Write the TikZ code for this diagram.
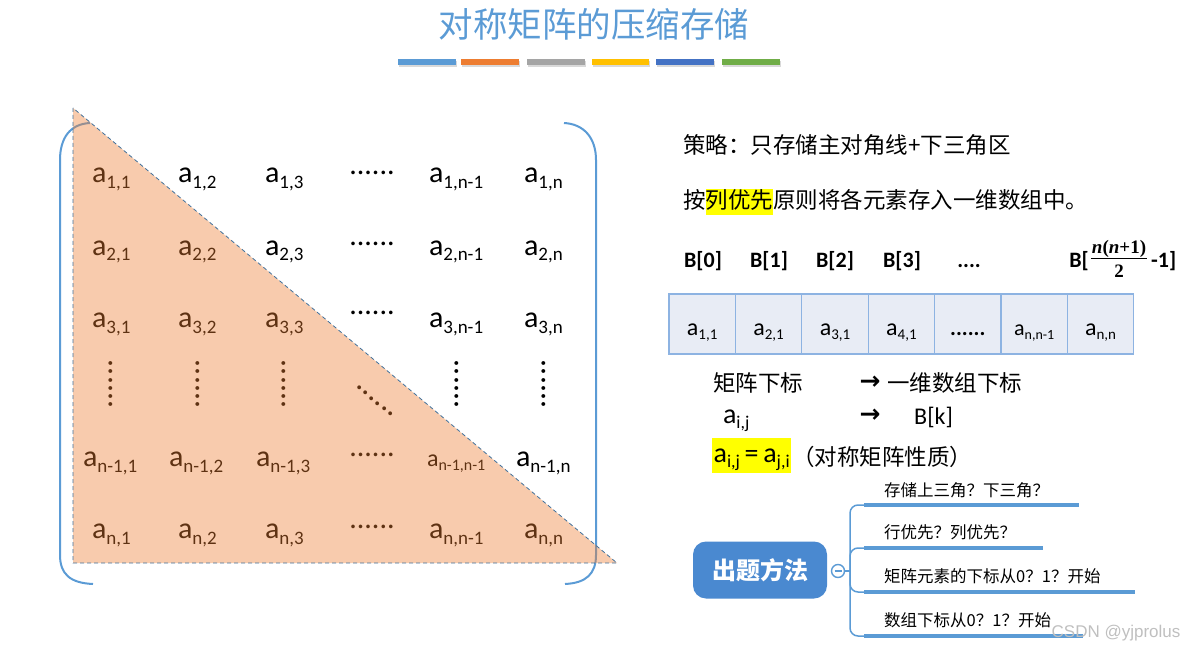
\documentclass[tikz,border=0pt]{standalone}
\usepackage{fontspec}
\setmainfont{Carlito}
\newfontfamily\carl{Carlito}
\newfontfamily\cjk{Noto Sans CJK SC}
\newfontfamily\arial{Liberation Sans}
\newfontfamily\dejavu{DejaVu Sans}
\newfontfamily\lserif{Liberation Serif}
\usetikzlibrary{calc}
\definecolor{bblue}{HTML}{5B9BD5}
\definecolor{cA}{HTML}{5B9BD5}
\definecolor{cB}{HTML}{ED7D31}
\definecolor{cC}{HTML}{A5A5A5}
\definecolor{cD}{HTML}{FFC000}
\definecolor{cE}{HTML}{4472C4}
\definecolor{cF}{HTML}{70AD47}
\definecolor{tridash}{HTML}{41719C}
\definecolor{cellfill}{HTML}{E8ECF5}
\definecolor{cellline}{HTML}{8DB3E2}
\definecolor{rootfill}{HTML}{4A89D0}
\definecolor{hl}{HTML}{FFFF00}
\newcommand\ment[4]{{\fontsize{#1}{#1}\selectfont\carl #3\raisebox{-0.2em}{\fontsize{#2}{#2}\selectfont #4}}}
\newcommand\hdots{{\fontsize{30}{30}\selectfont\carl ......}}
\newcommand\vdotsx{{\fontsize{32}{32}\selectfont\carl ......}}
\newcommand\hlbox[1]{{\setlength\fboxsep{0pt}\colorbox{hl}{#1}}}
\tikzset{
  el/.style={anchor=base west, inner sep=0pt, outer sep=0pt},
  dt/.style={anchor=center, inner sep=0pt, outer sep=0pt},
  rtext/.style={anchor=west, inner sep=0pt, font=\cjk\fontsize{22.5}{22.5}\selectfont},
  blabel/.style={anchor=base, inner sep=0pt, font=\carl\bfseries\fontsize{22}{22}\selectfont},
  fracpart/.style={anchor=base, inner sep=0pt, font=\lserif\bfseries\fontsize{19}{19}\selectfont},
  cell/.style={draw=cellline, fill=cellfill, line width=1.3pt, minimum width=66.4pt, minimum height=60pt, inner sep=0pt},
  celltext/.style={anchor=base, inner sep=0pt},
  brtext/.style={anchor=west, inner sep=0pt, font=\cjk\fontsize{16.5}{16.5}\selectfont},
  branch/.style={bblue, line width=4pt},
  twig/.style={bblue, line width=1.5pt, rounded corners=8pt},
  bracket/.style={bblue, line width=2pt},
  arrowtext/.style={anchor=center, inner sep=0pt, font=\dejavu\bfseries\fontsize{25}{25}\selectfont},
}
\begin{document}
\begin{tikzpicture}[x=1pt,y=-1pt]
\useasboundingbox (0,0) rectangle (1201,652);
% title
\node[inner sep=0pt, text=bblue, font=\cjk\fontsize{34.5}{34.5}\selectfont] (title) at (594,24) {对称矩阵的压缩存储};
% colour bars
\fill[gray!30] (399,61) rectangle (457,67);
\fill[gray!30] (462,61) rectangle (520,67);
\fill[gray!30] (528,61) rectangle (586,67);
\fill[gray!30] (593,61) rectangle (650,67);
\fill[gray!30] (657,61) rectangle (715,67);
\fill[gray!30] (723,61) rectangle (781,67);
\fill[cA] (398,59) rectangle (456,65);
\fill[cB] (461,59) rectangle (519,65);
\fill[cC] (527,59) rectangle (585,65);
\fill[cD] (592,59) rectangle (649,65);
\fill[cE] (656,59) rectangle (714,65);
\fill[cF] (722,59) rectangle (780,65);
% brackets
\draw[bracket] (90,123) .. controls (70,124) and (60,138) .. (60,160) -- (60,555) .. controls (60,574) and (70,583) .. (93,584);
\draw[bracket] (564,123) .. controls (584,124) and (596,138) .. (596,160) -- (596,555) .. controls (596,574) and (586,583) .. (565,584);
% row 1
\node[el] (m11) at (92,183) {\ment{30}{19}{a}{1,1}};
\node[el] (m12) at (178,183) {\ment{30}{19}{a}{1,2}};
\node[el] (m13) at (265,183) {\ment{30}{19}{a}{1,3}};
\node[dt] (m14) at (372,173) {\hdots};
\node[el] (m15) at (429,183) {\ment{30}{19}{a}{1,n-1}};
\node[el] (m16) at (524,183) {\ment{30}{19}{a}{1,n}};
% row 2
\node[el] (m21) at (92,255) {\ment{30}{19}{a}{2,1}};
\node[el] (m22) at (178,255) {\ment{30}{19}{a}{2,2}};
\node[el] (m23) at (265,255) {\ment{30}{19}{a}{2,3}};
\node[dt] (m24) at (372,244) {\hdots};
\node[el] (m25) at (429,255) {\ment{30}{19}{a}{2,n-1}};
\node[el] (m26) at (524,255) {\ment{30}{19}{a}{2,n}};
% row 3
\node[el] (m31) at (92,327) {\ment{30}{19}{a}{3,1}};
\node[el] (m32) at (178,327) {\ment{30}{19}{a}{3,2}};
\node[el] (m33) at (265,327) {\ment{30}{19}{a}{3,3}};
\node[dt] (m34) at (372,313) {\hdots};
\node[el] (m35) at (429,327) {\ment{30}{19}{a}{3,n-1}};
\node[el] (m36) at (524,327) {\ment{30}{19}{a}{3,n}};
% row 4 (dots)
\node[dt, rotate=90] (m41) at (111,384) {\vdotsx};
\node[dt, rotate=90] (m42) at (198,384) {\vdotsx};
\node[dt, rotate=90] (m43) at (284,384) {\vdotsx};
\node[dt, rotate=-40] (m44) at (375,401) {\vdotsx};
\node[dt, rotate=90] (m45) at (457,384) {\vdotsx};
\node[dt, rotate=90] (m46) at (544,384) {\vdotsx};
% row 5
\node[el] (m51) at (83,466) {\ment{30}{19}{a}{n-1,1}};
\node[el] (m52) at (169,466) {\ment{30}{19}{a}{n-1,2}};
\node[el] (m53) at (256,466) {\ment{30}{19}{a}{n-1,3}};
\node[dt] (m54) at (372,455) {\hdots};
\node[el] (m55) at (427,466) {\ment{24}{16}{a}{n-1,n-1}};
\node[el] (m56) at (516,466) {\ment{30}{19}{a}{n-1,n}};
% row 6
\node[el] (m61) at (92,538) {\ment{30}{19}{a}{n,1}};
\node[el] (m62) at (178,538) {\ment{30}{19}{a}{n,2}};
\node[el] (m63) at (265,538) {\ment{30}{19}{a}{n,3}};
\node[dt] (m64) at (372,527) {\hdots};
\node[el] (m65) at (429,538) {\ment{30}{19}{a}{n,n-1}};
\node[el] (m66) at (524,538) {\ment{30}{19}{a}{n,n}};
% triangle overlay
\fill[cB, fill opacity=0.4] (73,108) -- (73,563) -- (617,563) -- cycle;
\draw[tridash, line width=0.8pt, dash pattern=on 4pt off 3pt] (73,108) -- (73,563) -- (617,563) -- cycle;
% right text
\node[rtext] (s1) at (683,145) {策略：只存储主对角线+下三角区};
\node[rtext] (s2) at (683,202) {按\hlbox{\rule[-0.28em]{0pt}{1.1em}列优先}原则将各元素存入一维数组中。};
% B labels
\node[blabel] (b0) at (703,268) {B[0]};
\node[blabel] (b1) at (769,268) {B[1]};
\node[blabel] (b2) at (835,268) {B[2]};
\node[blabel] (b3) at (902,268) {B[3]};
\node[blabel] (b4) at (969,268) {....};
\node[blabel, anchor=base east] (b5a) at (1089,268) {B[};
\node[fracpart] (b5n) at (1119,254) {\textit{n}(\textit{n}+1)};
\node[fracpart] (b5d) at (1119,277) {2};
\draw[line width=1.3pt] ([xshift=-1pt]b5n.south west |- 0,258.5) -- ([xshift=1pt]b5n.south east |- 0,258.5);
\node[blabel, anchor=base west] (b5b) at (1151,268) {-1]};
% array
\node[cell] (c1) at (702.2,324) {};
\node[cell] (c2) at (768.6,324) {};
\node[cell] (c3) at (835.0,324) {};
\node[cell] (c4) at (901.4,324) {};
\node[cell] (c5) at (967.8,324) {};
\node[cell] (c6) at (1034.2,324) {};
\node[cell] (c7) at (1100.6,324) {};
\node[celltext] (t1) at (702.2,335) {\ment{24}{15}{a}{1,1}};
\node[celltext] (t2) at (768.6,335) {\ment{24}{15}{a}{2,1}};
\node[celltext] (t3) at (835.0,335) {\ment{24}{15}{a}{3,1}};
\node[celltext] (t4) at (901.4,335) {\ment{24}{15}{a}{4,1}};
\node[celltext] (t5) at (967.8,335) {{\carl\bfseries\fontsize{22}{22}\selectfont ......}};
\node[celltext] (t6) at (1034.2,335) {\ment{22}{14}{a}{n,n-1}};
\node[celltext] (t7) at (1100.6,335) {\ment{24}{15}{a}{n,n}};
% mapping
\node[rtext] (k1) at (713,383) {矩阵下标};
\node[arrowtext] (ar1) at (870,383) {→};
\node[rtext] (k2) at (887,383) {一维数组下标};
\node[el] (k3) at (723,423) {\ment{28}{18}{a}{i,j}};
\node[arrowtext] (ar2) at (870,416) {→};
\node[anchor=west, inner sep=0pt, font=\carl\fontsize{24}{24}\selectfont] (k4) at (914,417) {B[k]};
\node[anchor=west, inner sep=0pt] (k5) at (712,455.5) {\hlbox{\rule[-11pt]{0pt}{35pt}\hspace{1.5pt}\ment{28}{18}{a}{i,j}{\carl\fontsize{28}{28}\selectfont\,=\,}\ment{28}{18}{a}{j,i}\hspace{1.5pt}}};
\node[rtext] (k6) at (792,457) {（对称矩阵性质）};
% mind map
\node[fill=rootfill, rounded corners=13pt, minimum width=134pt, minimum height=57pt, inner sep=0pt, text=white, font=\cjk\bfseries\fontsize{24}{24}\selectfont] (root) at (760,570) {出题方法};
\node[circle, draw=bblue, fill=white, line width=1.4pt, minimum size=13pt, inner sep=0pt] (col) at (838,571) {};
\draw[bblue, line width=1.6pt] ([xshift=-3.5pt]col.center) -- ([xshift=3.5pt]col.center);
\coordinate (j) at (850,571);
\coordinate (l1s) at (864,505); \coordinate (l1e) at (1079,505);
\coordinate (l2s) at (864,548); \coordinate (l2e) at (1043,548);
\coordinate (l3s) at (864,592); \coordinate (l3e) at (1135,592);
\coordinate (l4s) at (864,636); \coordinate (l4e) at (1083,636);
\draw[twig] (col.east) -- (j);
\draw[twig] (j) |- (l1s);
\draw[twig] (j) |- (l2s);
\draw[twig] (j) |- (l3s);
\draw[twig] (j) |- (l4s);
\draw[branch] (l1s) -- (l1e);
\draw[branch] (l2s) -- (l2e);
\draw[branch] (l3s) -- (l3e);
\draw[branch] (l4s) -- (l4e);
\node[brtext] (q1) at (884,490) {存储上三角？下三角？};
\node[brtext] (q2) at (884,532) {行优先？列优先？};
\node[brtext] (q3) at (884,576) {矩阵元素的下标从0？1？开始};
\node[brtext] (q4) at (884,620) {数组下标从0？1？开始};
% watermark
\node[anchor=center, inner sep=0pt, text=gray!50, font=\arial\fontsize{17}{17}\selectfont] (wm) at (1116,633) {CSDN @yjprolus};
\end{tikzpicture}
\end{document}
